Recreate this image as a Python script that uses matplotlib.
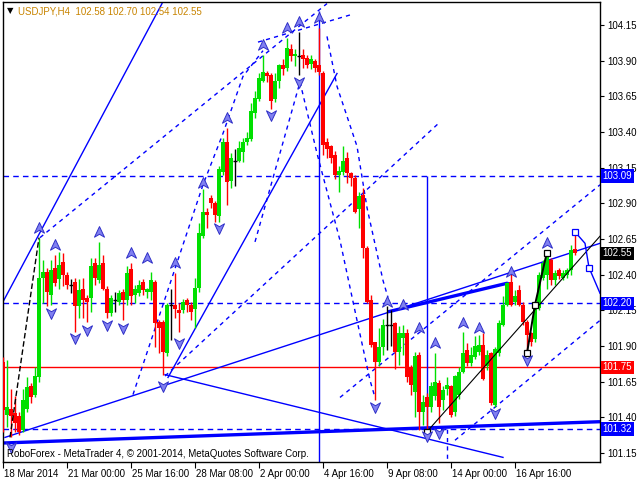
import matplotlib
matplotlib.use('Agg')
import matplotlib.pyplot as plt
import matplotlib.transforms as mtransforms
from matplotlib.path import Path
import numpy as np

# H4 bars, 18 Mar - 17 Apr 2014
opens = [101.79, 101.42, 101.46, 101.43, 101.41, 101.31, 101.46, 101.62, 101.56, 101.68,
         102.38, 102.42, 102.26, 102.45, 102.37, 102.49, 102.40, 102.33, 102.35, 102.18,
         102.30, 102.24, 102.24, 102.48, 102.36, 102.48, 102.30, 102.13, 102.22, 102.21,
         102.28, 102.22, 102.44, 102.26, 102.27, 102.35, 102.28, 102.28, 102.35, 102.07,
         102.07, 101.85, 102.19, 102.19, 102.15, 102.15, 102.22, 102.19, 102.16, 102.31,
         102.67, 102.84, 102.94, 102.90, 102.81, 103.12, 103.33, 103.06, 103.20, 103.20,
         103.26, 103.33, 103.35, 103.53, 103.63, 103.76, 103.81, 103.80, 103.63, 103.76,
         103.87, 103.85, 103.98, 103.93, 103.93, 103.94, 103.92, 103.88, 103.90, 103.87,
         103.81, 103.33, 103.30, 103.24, 103.10, 103.12, 103.22, 103.11, 103.08, 102.86,
         102.96, 102.59, 102.22, 101.93, 101.79, 101.89, 102.05, 102.05, 102.06, 101.86,
         101.96, 101.99, 101.75, 101.58, 101.84, 101.44, 101.54, 101.47, 101.55, 101.64,
         101.52, 101.60, 101.62, 101.44, 101.56, 101.72, 101.87, 101.78, 101.82, 101.86,
         101.91, 101.76, 101.85, 101.49, 101.85, 102.05, 102.19, 102.35, 102.21, 102.29,
         102.19, 102.07, 101.99, 101.95, 102.17, 102.38, 102.40, 102.50, 102.36, 102.43,
         102.38, 102.40, 102.43, 102.58]
highs = [101.82, 101.80, 101.60, 101.55, 101.44, 101.60, 101.68, 101.64, 101.75, 102.66,
         102.50, 102.45, 102.50, 102.54, 102.56, 102.55, 102.42, 102.37, 102.38, 102.37,
         102.38, 102.26, 102.52, 102.52, 102.63, 102.54, 102.32, 102.26, 102.28, 102.29,
         102.30, 102.46, 102.48, 102.33, 102.36, 102.37, 102.31, 102.42, 102.36, 102.08,
         102.08, 102.20, 102.30, 102.41, 102.20, 102.23, 102.24, 102.21, 102.38, 102.76,
         103.00, 102.87, 102.96, 102.92, 103.16, 103.36, 103.43, 103.25, 103.28, 103.34,
         103.36, 103.40, 103.60, 103.69, 103.81, 103.94, 103.83, 103.81, 103.81, 103.88,
         103.91, 104.06, 104.02, 103.98, 104.10, 103.98, 103.94, 103.94, 103.91, 104.13,
         103.83, 103.36, 103.31, 103.27, 103.16, 103.30, 103.26, 103.12, 103.10, 102.98,
         103.01, 102.60, 102.26, 101.93, 102.03, 102.09, 102.18, 102.15, 102.07, 102.04,
         102.05, 102.02, 101.77, 101.86, 101.86, 101.56, 101.57, 101.65, 101.85, 101.66,
         101.62, 101.68, 101.63, 101.70, 101.75, 102.00, 101.92, 101.89, 101.97, 101.98,
         101.99, 101.87, 101.86, 101.89, 102.08, 102.25, 102.35, 102.42, 102.29, 102.33,
         102.21, 102.08, 102.00, 102.21, 102.42, 102.50, 102.56, 102.52, 102.43, 102.45,
         102.43, 102.45, 102.61, 102.70]
lows = [101.30, 101.33, 101.26, 101.30, 101.28, 101.30, 101.44, 101.50, 101.54, 101.65,
        102.20, 102.18, 102.19, 102.32, 102.30, 102.32, 102.30, 102.27, 102.00, 102.10,
        102.10, 102.07, 102.14, 102.33, 102.34, 102.29, 102.10, 102.11, 102.14, 102.19,
        102.08, 102.19, 102.19, 102.20, 102.25, 102.26, 102.24, 102.22, 101.89, 101.85,
        101.70, 101.83, 101.94, 102.10, 102.00, 102.13, 102.14, 102.08, 102.03, 102.28,
        102.66, 102.73, 102.87, 102.77, 102.77, 103.10, 102.89, 103.01, 103.02, 103.19,
        103.19, 103.31, 103.34, 103.50, 103.62, 103.75, 103.75, 103.56, 103.61, 103.71,
        103.80, 103.83, 103.90, 103.86, 103.80, 103.85, 103.85, 103.84, 103.82, 103.80,
        103.24, 103.22, 103.18, 103.07, 102.98, 103.10, 103.04, 103.02, 102.83, 102.73,
        102.52, 102.20, 101.89, 101.52, 101.76, 101.84, 101.87, 101.90, 101.74, 101.77,
        101.84, 101.65, 101.56, 101.40, 101.31, 101.35, 101.30, 101.44, 101.52, 101.36,
        101.45, 101.56, 101.40, 101.41, 101.53, 101.71, 101.76, 101.76, 101.81, 101.84,
        101.66, 101.73, 101.49, 101.47, 101.83, 102.04, 102.18, 102.18, 102.19, 102.18,
        102.05, 101.85, 101.90, 101.93, 102.15, 102.36, 102.30, 102.33, 102.33, 102.37,
        102.36, 102.38, 102.40, 102.54]
closes = [101.45, 101.47, 101.41, 101.36, 101.30, 101.52, 101.61, 101.54, 101.69, 102.38,
          102.42, 102.28, 102.43, 102.34, 102.47, 102.40, 102.33, 102.33, 102.18, 102.29,
          102.22, 102.21, 102.46, 102.38, 102.47, 102.30, 102.13, 102.24, 102.22, 102.27,
          102.22, 102.41, 102.25, 102.30, 102.33, 102.29, 102.30, 102.36, 102.06, 102.03,
          101.86, 102.19, 102.19, 102.16, 102.13, 102.21, 102.19, 102.14, 102.31, 102.69,
          102.84, 102.82, 102.90, 102.82, 103.14, 103.33, 103.05, 103.22, 103.20, 103.29,
          103.33, 103.36, 103.55, 103.64, 103.78, 103.82, 103.79, 103.62, 103.76, 103.87,
          103.84, 103.99, 103.93, 103.95, 103.93, 103.91, 103.87, 103.91, 103.85, 103.82,
          103.31, 103.28, 103.22, 103.10, 103.13, 103.20, 103.11, 103.08, 102.84, 102.95,
          102.59, 102.21, 101.91, 101.79, 101.89, 102.05, 102.05, 102.05, 101.86, 101.99,
          101.99, 101.68, 101.63, 101.83, 101.44, 101.51, 101.47, 101.62, 101.65, 101.47,
          101.59, 101.63, 101.42, 101.69, 101.72, 101.85, 101.78, 101.84, 101.90, 101.91,
          101.67, 101.84, 101.50, 101.88, 102.06, 102.19, 102.34, 102.19, 102.25, 102.19,
          102.07, 101.98, 101.93, 102.19, 102.40, 102.48, 102.54, 102.36, 102.41, 102.39,
          102.41, 102.43, 102.57, 102.55]

tick_bars = [0, 16, 32, 48, 64, 80, 96, 112, 128]
tick_labels = ['18 Mar 2014', '21 Mar 00:00', '25 Mar 16:00', '28 Mar 08:00', '2 Apr 00:00',
               '4 Apr 16:00', '9 Apr 08:00', '14 Apr 00:00', '16 Apr 16:00']

# horizontal levels (price, colour, style)
levels = [(103.09, 'blue', '--'), (102.20, 'blue', '--'), (101.75, 'red', '-'), (101.32, 'blue', '--')]

# fractal arrows: bar index, price
up_bars = [9, 13, 24, 32, 36, 43, 50, 56, 65, 71, 74, 79, 96, 100, 104, 108, 115, 119, 127, 136]
up_prices = [102.73, 102.61, 102.70, 102.55, 102.52, 102.48, 103.04, 103.50, 104.01, 104.13,
             104.17, 104.20, 102.21, 102.19, 102.03, 101.92, 102.06, 102.03, 102.42, 102.62]
down_bars = [2, 12, 18, 21, 26, 30, 40, 44, 54, 67, 74, 93, 106, 109, 123, 131]
down_prices = [101.19, 102.13, 101.96, 102.01, 102.05, 102.03, 101.62, 101.92, 102.73, 103.52,
               103.75, 101.47, 101.27, 101.29, 101.43, 101.80]

# trend lines: (bars, prices)
solid_lines = [([0, 39.75], [102.21, 104.30]),
               ([41.25, 83.5], [101.68, 103.81]),
               ([0.5, 149.25], [101.26, 102.62]),
               ([40.5, 125], [101.70, 101.12])]
dashed_lines = [([9.25, 81], [102.66, 104.30]),
                ([40.5, 109.25], [101.69, 103.47]),
                ([32.5, 50, 55, 60, 65], [101.56, 103.03, 103.39, 103.79, 103.97]),
                ([63, 74.25], [102.63, 103.75]),
                ([63.75, 86.75], [104.03, 104.22]),
                ([84.25, 149.25], [101.54, 103.03]),
                ([113, 149.25], [101.24, 102.08]),
                ([81, 83.5, 88.5, 91, 95, 96.25], [104.07, 103.72, 103.30, 102.87, 102.36, 102.24]),
                ([74.25, 78.5, 84.25, 88.5, 91.75, 93], [103.75, 103.25, 102.64, 102.08, 101.66, 101.54])]
thick_lines = [([96.25, 126, 127], [102.14, 102.34, 102.33]),
               ([-0.75, 149.25], [101.22, 101.37])]

BULL = '#00e000'
BEAR = '#ff0000'

fig = plt.figure(figsize=(6.4, 4.8), dpi=100)
ax = fig.add_axes([3 / 640, 18 / 480, 597 / 640, 460 / 480])
ax.set_xlim(0, 149.25)
ax.set_ylim(101.0876, 104.311)

# levels
for price, col, ls in levels:
    ax.axhline(price, color=col, lw=1, ls=(0, (4, 3)) if ls == '--' else '-', zorder=1)

for xs, ys in solid_lines:
    ax.plot(xs, ys, color='blue', lw=1, zorder=1)
for xs, ys in dashed_lines:
    ax.plot(xs, ys, color='blue', lw=1, ls=(0, (3, 3)), zorder=1)
for xs, ys in thick_lines:
    ax.plot(xs, ys, color='blue', lw=2.4, zorder=1, solid_capstyle='butt')

ax.vlines(79, 101.0, 104.25, color='blue', lw=1, zorder=1)
ax.vlines(106, 101.32, 103.09, color='blue', lw=1, zorder=1)
ax.vlines(111, 101.0, 101.32, color='blue', lw=1, ls=(0, (3, 3)), zorder=1)

# candles
for i in range(len(opens)):
    o, h, l, c = opens[i], highs[i], lows[i], closes[i]
    if c > o:
        col = BULL
    elif c < o:
        col = BEAR
    else:
        col = 'black'
    ax.vlines(i, l, h, color=col, lw=1, zorder=3)
    if c == o:
        ax.hlines(o, i - 0.45, i + 0.45, color='black', lw=1, zorder=3)
    else:
        ax.bar(i, c - o, bottom=o, width=0.85, color=col, lw=0, zorder=3)

# zigzag / forecast
ax.plot([1.75, 9], [101.26, 102.66], color='black', lw=1, ls=(0, (4, 2)), zorder=4)
ax.plot([106, 149.25], [101.30, 102.67], color='black', lw=0.8, zorder=4)
ax.plot([131, 133, 136], [lows[131], closes[133], highs[136]], color='black', lw=1.4, zorder=4)
ax.plot([106, 131, 133, 136], [lows[106], lows[131], closes[133], 102.55], ls='none',
        marker='s', ms=4, mfc='white', mec='black', mew=0.9, zorder=5)
ax.plot([143, 145.5, 146.5, 149.25], [highs[143], 102.62, 102.45, 102.27], color='blue', lw=1, zorder=4)
ax.plot([143, 146.5], [highs[143], 102.45], ls='none', marker='s', ms=4, mfc='white',
        mec='blue', mew=0.9, zorder=5)

# arrows
up_path = Path([(0, 1), (0.85, -0.8), (0, -0.3), (-0.85, -0.8), (0, 1)],
               [Path.MOVETO, Path.LINETO, Path.LINETO, Path.LINETO, Path.CLOSEPOLY])
down_path = Path([(0, -1), (0.85, 0.8), (0, 0.3), (-0.85, 0.8), (0, -1)],
                 [Path.MOVETO, Path.LINETO, Path.LINETO, Path.LINETO, Path.CLOSEPOLY])
ax.plot(up_bars, up_prices, ls='none', marker=up_path, ms=8.5, mfc='#8080f0', mec='#3030c8', mew=0.7, zorder=6)
ax.plot(down_bars, down_prices, ls='none', marker=down_path, ms=8.5, mfc='#8080f0', mec='#3030c8', mew=0.7, zorder=6)

# axes
for s in ax.spines.values():
    s.set_color('black')
    s.set_linewidth(1)
ax.yaxis.tick_right()
ax.set_yticks(np.arange(101.15, 104.16, 0.25))
ax.set_yticklabels([f'{v:.2f}' for v in np.arange(101.15, 104.16, 0.25)])
ax.tick_params(axis='y', length=3, width=0.8, pad=2, labelsize=7)
ax.set_xticks(tick_bars)
ax.set_xticklabels(tick_labels)
ax.tick_params(axis='x', length=4, width=0.8, pad=1, labelsize=7)
offset = mtransforms.ScaledTranslation(1 / 100, 0, fig.dpi_scale_trans)
for lab in ax.get_xticklabels():
    lab.set_ha('left')
    lab.set_transform(lab.get_transform() + offset)
for lab in ax.get_xticklabels() + ax.get_yticklabels():
    lab.set_family('Liberation Sans')

# price tags on the scale
tags = [(103.09, 'blue'), (102.55, 'black'), (102.20, 'blue'), (101.75, 'red'), (101.32, 'blue')]
for price, col in tags:
    ax.text(1.004, price, f'{price:.2f}', transform=ax.get_yaxis_transform(), va='center', ha='left',
            color='white', fontsize=7, family='Liberation Sans',
            bbox=dict(boxstyle='square,pad=0.18', fc=col, ec='none'), zorder=10, clip_on=False)

ax.text(4 / 597, (462 - 454) / 460, 'RoboForex - MetaTrader 4, \u00a9 2001-2014, MetaQuotes Software Corp.',
        transform=ax.transAxes, fontsize=7, family='Liberation Sans', va='center', ha='left', zorder=10)
fig.text(7 / 640, 1 - 11 / 480, '\u25bc', fontsize=6, color='black', va='center', ha='left')
fig.text(18 / 640, 1 - 11 / 480, 'USDJPY,H4  102.58 102.70 102.54 102.55', fontsize=7,
         family='Liberation Sans', color='#c88400', va='center', ha='left')

fig.savefig('out.png', dpi=100)
